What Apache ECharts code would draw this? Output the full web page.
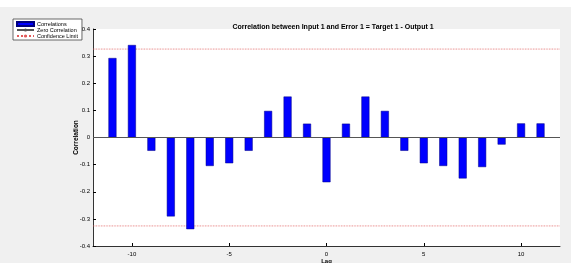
<!DOCTYPE html>
<html>
<head>
<meta charset="utf-8">
<script src="https://cdn.jsdelivr.net/npm/echarts@6/dist/echarts.min.js"></script>
<style>
html, body { margin: 0; padding: 0; background: #f0f0f0; }
#chart { width: 571px; height: 263px; }
</style>
</head>
<body>
<div id="chart"></div>
<script>
// lags and correlation values
var lags = [-11, -10, -9, -8, -7, -6, -5, -4, -3, -2, -1, 0, 1, 2, 3, 4, 5, 6, 7, 8, 9, 10, 11];
var correlations = [0.293, 0.341, -0.049, -0.291, -0.338, -0.105, -0.095, -0.049, 0.098, 0.151, 0.051, -0.165,
	0.051, 0.151, 0.098, -0.049, -0.095, -0.105, -0.151, -0.109, -0.026, 0.052, 0.052];
var confidenceLimit = 0.326;
var lagRange = [-12, 12];
var xTicks = [-10, -5, 0, 5, 10];
var yRange = [-0.4, 0.4];

var barData = [];
for (var i = 0; i < lags.length; i++) {
	barData.push([lags[i], correlations[i]]);
}

var limitStyle = { color: '#e05a5a', width: 0.8, type: 'dotted' };

var myChart = echarts.init(document.getElementById('chart'));
var option = {
	backgroundColor: '#f0f0f0',
	animation: false,
	graphic: [
		{ type: 'rect', left: 0, top: 0, shape: { width: 571, height: 7 }, style: { fill: '#ffffff' }, silent: true }
	],
	title: {
		text: 'Correlation between Input 1 and Error 1 = Target 1 - Output 1',
		left: 328,
		top: 19,
		textAlign: 'center',
		textStyle: { fontSize: 7, fontWeight: 'bold', color: '#000', fontFamily: 'Liberation Sans' }
	},
	legend: {
		orient: 'vertical',
		left: 13,
		top: 19,
		padding: [2, 4, 1, 3],
		itemGap: 0,
		itemWidth: 17,
		itemHeight: 4,
		backgroundColor: '#ffffff',
		borderColor: '#444',
		borderWidth: 0.8,
		borderRadius: 0,
		textStyle: { fontSize: 5.5, color: '#000', fontFamily: 'Liberation Sans', padding: [0, 0, 0, -2] },
		data: [
			{ name: 'Correlations', icon: 'rect' },
			{ name: 'Zero Correlation' },
			{ name: 'Confidence Limit' }
		]
	},
	grid: {
		left: 93,
		right: 11,
		top: 29,
		bottom: 17,
		outerBoundsMode: 'none',
		show: true,
		backgroundColor: '#ffffff',
		borderWidth: 0
	},
	xAxis: {
		type: 'value',
		min: lagRange[0],
		max: lagRange[1],
		name: 'Lag',
		nameLocation: 'middle',
		nameGap: 12,
		nameMoveOverlap: false,
		nameTextStyle: { fontSize: 6, fontWeight: 'bold', color: '#000', fontFamily: 'Liberation Sans' },
		axisLine: { onZero: false, lineStyle: { color: '#000', width: 0.8 } },
		axisTick: { inside: true, length: 3, customValues: xTicks, lineStyle: { color: '#000' } },
		axisLabel: { customValues: xTicks, fontSize: 6, color: '#000', margin: 5, fontFamily: 'Liberation Sans' },
		splitLine: { show: false }
	},
	yAxis: {
		type: 'value',
		min: yRange[0],
		max: yRange[1],
		interval: 0.1,
		name: 'Correlation',
		nameLocation: 'middle',
		nameGap: 13,
		nameMoveOverlap: false,
		nameTextStyle: { fontSize: 6.5, fontWeight: 'bold', color: '#000', fontFamily: 'Liberation Sans' },
		axisLine: { show: true, onZero: false, lineStyle: { color: '#000', width: 0.8 } },
		axisTick: { inside: true, length: 3, lineStyle: { color: '#000' } },
		axisLabel: {
			fontSize: 6,
			color: '#000',
			margin: 3,
			fontFamily: 'Liberation Sans',
			formatter: function (v) {
				return Math.abs(v) < 1e-9 ? '0' : v.toFixed(1);
			}
		},
		splitLine: { show: false }
	},
	series: [
		{
			name: 'Correlations',
			type: 'bar',
			barWidth: 8,
			itemStyle: { color: '#0000ff', borderColor: '#000080', borderWidth: 0.5 },
			data: barData,
			z: 3
		},
		{
			name: 'Zero Correlation',
			type: 'line',
			symbol: 'none',
			lineStyle: { color: '#555', width: 1.2 },
			itemStyle: { color: '#555' },
			data: [[lagRange[0], 0], [lagRange[1], 0]],
			z: 4
		},
		{
			name: 'Confidence Limit',
			type: 'line',
			symbol: 'none',
			lineStyle: limitStyle,
			itemStyle: { color: '#e05a5a' },
			data: [[lagRange[0], confidenceLimit], [lagRange[1], confidenceLimit]],
			z: 2
		},
		{
			name: 'Confidence Limit',
			type: 'line',
			symbol: 'none',
			lineStyle: limitStyle,
			itemStyle: { color: '#e05a5a' },
			data: [[lagRange[0], -confidenceLimit], [lagRange[1], -confidenceLimit]],
			z: 2
		}
	]
};
myChart.setOption(option);
</script>
</body>
</html>
